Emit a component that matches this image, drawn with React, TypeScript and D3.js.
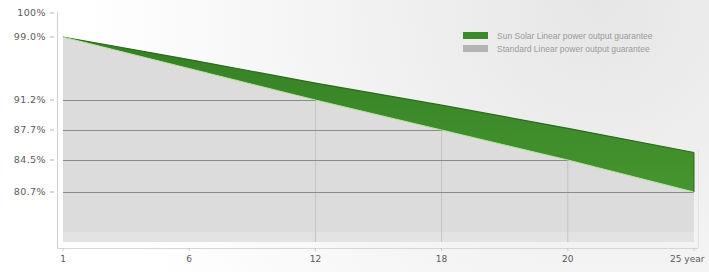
import React from "react";
import * as d3 from "d3";

const years = ["1", "6", "12", "18", "20", "25"];
const sunSolar = [99.0, 96.2, 93.3, 90.6, 87.9, 85.3];
const standard = [99.0, 95.1, 91.2, 87.7, 84.5, 80.7];
const yTicks = [100, 99.0, 91.2, 87.7, 84.5, 80.7];
const yTickLabels = ["100%", "99.0%", "91.2%", "87.7%", "84.5%", "80.7%"];
const gridValues = [91.2, 87.7, 84.5, 80.7];
const legendLabels = [
  "Sun Solar Linear power output guarantee",
  "Standard Linear power output guarantee",
];

const W = 709;
const H = 272;
const plotLeft = 62;
const plotBottom = 242;

export default function App() {
  const x = d3.scalePoint<string>().domain(years).range([63, 694]);
  const y = d3
    .scaleLinear()
    .domain([75.3, 80.7, 84.5, 87.7, 91.2, 99, 100])
    .range([plotBottom, 192, 160, 130, 100, 37, 13]);

  const rows = years.map((yr, i) => ({ yr, top: sunSolar[i], bot: standard[i] }));
  const xEnd = x(years[years.length - 1])!;

  const grayArea = d3
    .area<any>()
    .x((d) => x(d.yr)!)
    .y0(plotBottom)
    .y1((d) => y(d.bot))(rows)!;
  const band = d3
    .area<any>()
    .x((d) => x(d.yr)!)
    .y0((d) => y(d.bot))
    .y1((d) => y(d.top))(rows)!;
  const topLine = d3
    .line<any>()
    .x((d) => x(d.yr)!)
    .y((d) => y(d.top))(rows)!;
  const botLine = d3
    .line<any>()
    .x((d) => x(d.yr)!)
    .y((d) => y(d.bot))(rows)!;

  const font = "'DejaVu Sans', Verdana, sans-serif";
  const lfont = "'Liberation Sans', Arial, sans-serif";

  return (
    <svg
      width={W}
      height={H}
      style={{ position: "absolute", left: 0, top: 0, display: "block" }}
      viewBox={`0 0 ${W} ${H}`}
    >
      <defs>
        <radialGradient id="bg" cx="600" cy="0" r="520" gradientUnits="userSpaceOnUse">
          <stop offset="0" stopColor="#e6e6e6" />
          <stop offset="0.55" stopColor="#f4f4f4" />
          <stop offset="1" stopColor="#ffffff" />
        </radialGradient>
        <linearGradient id="grn" x1="0" y1="0" x2="0" y2="1">
          <stop offset="0" stopColor="#347f24" />
          <stop offset="1" stopColor="#45952f" />
        </linearGradient>
        <clipPath id="grayClip">
          <path d={grayArea} />
        </clipPath>
      </defs>
      <rect x={0} y={0} width={W} height={H} fill="url(#bg)" />

      {/* gray standard area */}
      <path d={grayArea} fill="#dcdcdc" />
      <g clipPath="url(#grayClip)">
        <rect x={plotLeft} y={plotBottom - 10} width={xEnd - plotLeft} height={10} fill="#e3e3e3" />
        {years.slice(2, 5).map((yr) => (
          <line
            key={yr}
            x1={x(yr)}
            x2={x(yr)}
            y1={0}
            y2={plotBottom}
            stroke="#c4c4c4"
            strokeWidth={1}
          />
        ))}
        {gridValues.map((v) => (
          <line
            key={v}
            x1={plotLeft}
            x2={xEnd}
            y1={Math.round(y(v)) + 0.5}
            y2={Math.round(y(v)) + 0.5}
            stroke="#8a8a8a"
            strokeWidth={1}
          />
        ))}
      </g>

      {/* green band */}
      <path d={band} fill="url(#grn)" />
      <path d={topLine} fill="none" stroke="#2c6a1e" strokeWidth={1.2} />
      <path d={botLine} fill="none" stroke="#b5e49a" strokeWidth={1} />
      <line
        x1={xEnd}
        x2={xEnd}
        y1={y(sunSolar[5])}
        y2={y(standard[5])}
        stroke="#2c6a1e"
        strokeWidth={1}
      />

      {/* axes */}
      <line x1={57.5} x2={57.5} y1={12} y2={248} stroke="#cfcfcf" strokeWidth={1} />
      <line x1={57} x2={xEnd + 4} y1={248.5} y2={248.5} stroke="#d6d6d6" strokeWidth={1} />
      <line x1={xEnd + 4.5} x2={xEnd + 4.5} y1={150} y2={248} stroke="#e2e2e2" strokeWidth={1} />
      {years.map((yr) => (
        <line key={yr} x1={x(yr)} x2={x(yr)} y1={248} y2={251} stroke="#c8c8c8" />
      ))}

      {yTicks.map((v, i) => (
        <g key={v}>
          <line x1={50} x2={54} y1={y(v)} y2={y(v)} stroke="#b5b5b5" />
          <text
            x={46}
            y={y(v)}
            dy="0.35em"
            textAnchor="end"
            fontFamily={font}
            fontSize={9.5}
            letterSpacing={0.4}
            fill="#5a5a5a"
          >
            {yTickLabels[i]}
          </text>
        </g>
      ))}

      {years.map((yr, i) => (
        <text
          key={yr}
          x={i === years.length - 1 ? x(yr)! - 24 : x(yr)}
          y={262}
          textAnchor={i === years.length - 1 ? "start" : "middle"}
          fontFamily={font}
          fontSize={9}
          fill="#5a5a5a"
        >
          {i === years.length - 1 ? yr + " year" : yr}
        </text>
      ))}

      {/* legend */}
      {legendLabels.map((lab, i) => (
        <g key={lab}>
          <rect
            x={463}
            y={32 + i * 13}
            width={25}
            height={7}
            fill={i === 0 ? "#3b8a2a" : "#b4b4b4"}
          />
          <text
            x={497}
            y={36 + i * 13}
            dy="0.35em"
            fontFamily={lfont}
            fontSize={8.5}
            fill="#9a9a9a"
          >
            {lab}
          </text>
        </g>
      ))}
    </svg>
  );
}
